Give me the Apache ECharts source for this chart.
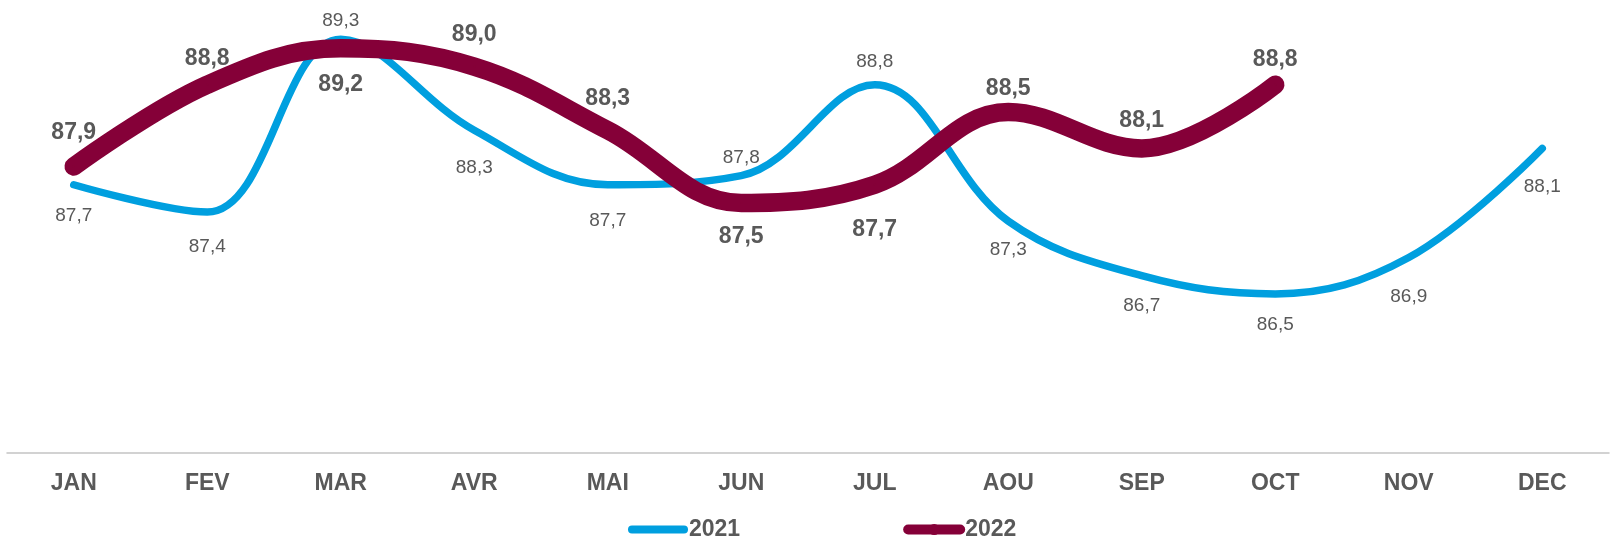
<!DOCTYPE html>
<html>
<head>
<meta charset="utf-8">
<script src="https://cdn.jsdelivr.net/npm/echarts@6/dist/echarts.min.js"></script>
<style>
html,body{margin:0;padding:0;background:#fff;}
#chart{width:1612px;height:539px;}
</style>
</head>
<body>
<div id="chart"></div>
<script>
const months = ['JAN','FEV','MAR','AVR','MAI','JUN','JUL','AOU','SEP','OCT','NOV','DEC'];
const values2021 = [87.7, 87.4, 89.3, 88.3, 87.7, 87.8, 88.8, 87.3, 86.7, 86.5, 86.9, 88.1];
const values2022 = [87.9, 88.8, 89.2, 89.0, 88.3, 87.5, 87.7, 88.5, 88.1, 88.8];
const seriesNames = ['2021', '2022'];

// label placement (style only)
const labelPos2021 = ['bottom','bottom','top','bottom','bottom','top','top','bottom','bottom','bottom','bottom','bottom'];
const labelDist2021 = [21, 24, 8, 27, 26, 7, 12, 18, 20, 20, 29, 28];
const labelPos2022 = ['top','top','bottom','top','top','bottom','bottom','top','top','top'];
const labelDist2022 = [21, 14, 24, 19, 19, 21, 32, 11, 15, 13];

const FONT = 'Liberation Sans, Arial, sans-serif';
const TXT = '#595959';
const fmt = p => Number(p.value).toFixed(1).replace('.', ',');

function buildData(vals, pos, dist) {
  return vals.map((v, i) => ({
    value: v,
    label: { position: pos[i], distance: dist[i] }
  }));
}

const chart = echarts.init(document.getElementById('chart'), null, {renderer: 'canvas'});
chart.setOption({
  backgroundColor: '#ffffff',
  animation: false,
  grid: { left: 7, right: 3, top: 12, bottom: 86, containLabel: false },
  xAxis: {
    type: 'category',
    data: months,
    boundaryGap: true,
    axisLine: { show: true, lineStyle: { color: '#C4C4C4', width: 1.5 } },
    axisTick: { show: false },
    axisLabel: { color: TXT, fontFamily: FONT, fontWeight: 'bold', fontSize: 23, margin: 19 },
    splitLine: { show: false }
  },
  yAxis: {
    type: 'value',
    min: 84.75,
    max: 89.6,
    show: false,
    splitLine: { show: false }
  },
  legend: {
    left: 623,
    top: 513,
    itemWidth: 52,
    itemHeight: 14,
    itemGap: 163,
    textStyle: { color: TXT, fontFamily: FONT, fontWeight: 'bold', fontSize: 23 },
    data: [
      { name: seriesNames[0], itemStyle: { opacity: 0 }, lineStyle: { width: 8, cap: 'round' } },
      { name: seriesNames[1], lineStyle: { width: 10, cap: 'round' } }
    ]
  },
  series: [
    {
      name: seriesNames[0],
      type: 'line',
      data: buildData(values2021, labelPos2021, labelDist2021),
      smooth: 0.38,
      symbol: 'circle',
      symbolSize: 2,
      showSymbol: true,
      itemStyle: { color: '#009FDF' },
      lineStyle: { color: '#009FDF', width: 7.5, cap: 'round', join: 'round' },
      label: { show: true, formatter: fmt, color: TXT, fontFamily: FONT, fontSize: 19 },
      z: 2
    },
    {
      name: seriesNames[1],
      type: 'line',
      data: buildData(values2022, labelPos2022, labelDist2022),
      smooth: 0.38,
      symbol: 'circle',
      symbolSize: 2,
      showSymbol: true,
      itemStyle: { color: '#850038' },
      lineStyle: { color: '#850038', width: 18.5, cap: 'round', join: 'round' },
      label: { show: true, formatter: fmt, color: TXT, fontFamily: FONT, fontWeight: 'bold', fontSize: 23 },
      z: 3
    }
  ]
});
</script>
</body>
</html>
